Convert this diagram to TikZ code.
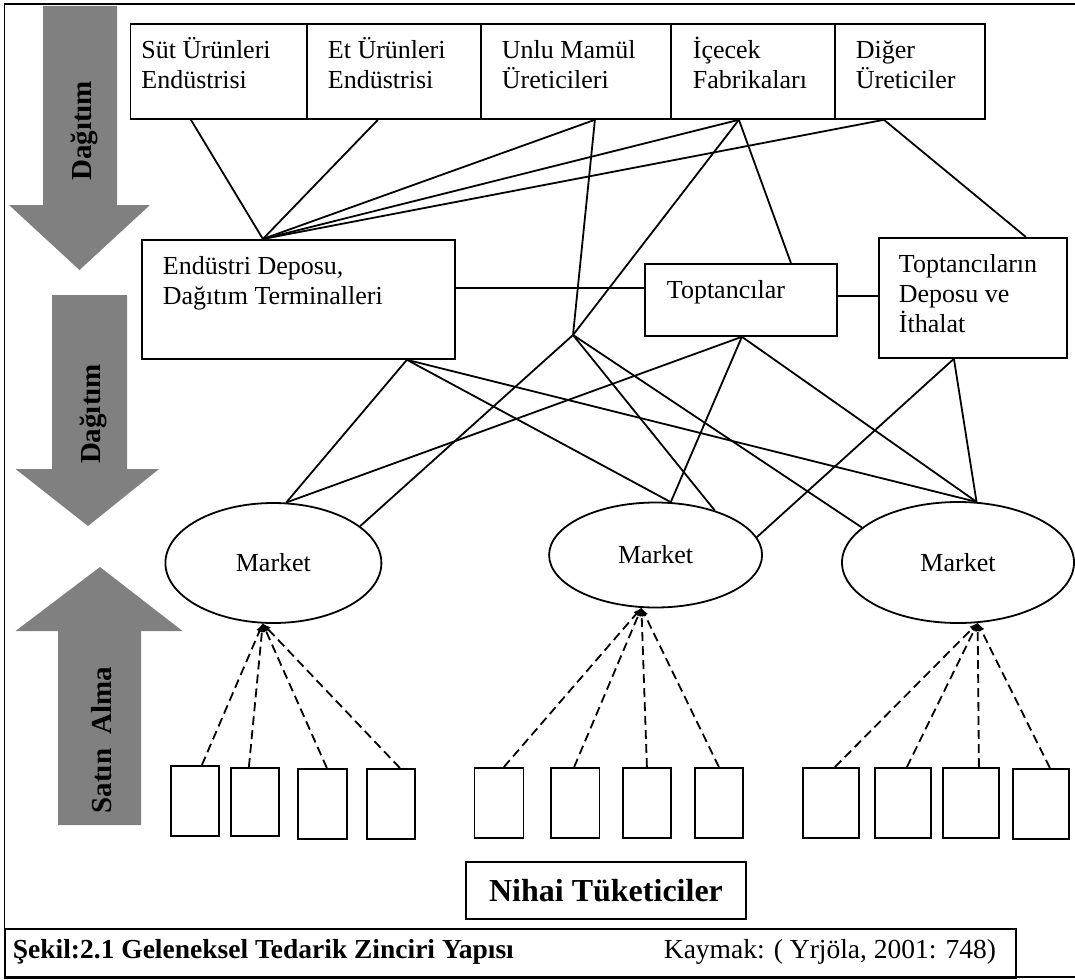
\documentclass[tikz,border=0pt]{standalone}
\usepackage{fontspec}
\setmainfont{Liberation Serif}
\usetikzlibrary{shapes.geometric}
\definecolor{arrowgray}{RGB}{128,128,128}
\newcommand{\boxstrut}{\rule{0pt}{25pt}}

\begin{document}
\begin{tikzpicture}[x=1pt,y=-1pt,line width=1.8pt,
        box/.style={draw,rectangle,inner sep=0pt,anchor=north west},
        txt/.style={anchor=north west,inner sep=0pt,align=left,font=\fontsize{26}{30}\selectfont},
        mkt/.style={draw,ellipse,inner sep=0pt,font=\fontsize{26}{30}\selectfont},
        buyline/.style={dash pattern=on 9pt off 5pt,-latex},
        side/.style={rotate=90,inner sep=0pt,font=\bfseries\fontsize{29}{34}\selectfont}]
        \useasboundingbox (0,0) rectangle (1075,979);
        \draw (1075,4) -- (4.5,4) -- (4.5,977) -- (1075,977);
        \fill[arrowgray] (43,6) -- (117,6) -- (117,205) -- (150,205) -- (79.5,270) -- (9,205) -- (43,205) -- cycle;
        \fill[arrowgray] (52,295) -- (127,295) -- (127,469) -- (159,469) -- (88,526) -- (15.5,469) -- (52,469) -- cycle;
        \fill[arrowgray] (58,825) -- (58,631) -- (15.5,631) -- (100,567) -- (182.5,631) -- (141,631) -- (141,825) -- cycle;
        \node[side] (dag1) at (84,131) {Dağıtım};
        \node[side] (dag2) at (93,414) {Dağıtım};
        \node[side] (alma) at (102,740) {Satın~~Alma};

        \node[box,minimum width=176.5,minimum height=95] (sut) at (129.5,23) {};
        \node[box,minimum width=174,minimum height=95] (et) at (306,23) {};
        \node[box,minimum width=190,minimum height=95] (unlu) at (480,23) {};
        \node[box,minimum width=164,minimum height=95] (icecek) at (670,23) {};
        \node[box,minimum width=150,minimum height=95] (diger) at (834,23) {};
        \node[txt] (sutT) at ([xshift=11pt,yshift=-10pt]sut.north west) {\boxstrut Süt Ürünleri\\Endüstrisi};
        \node[txt] (etT) at ([xshift=21pt,yshift=-10pt]et.north west) {\boxstrut Et Ürünleri\\Endüstrisi};
        \node[txt] (unluT) at ([xshift=21pt,yshift=-10pt]unlu.north west) {\boxstrut Unlu Mamül\\Üreticileri};
        \node[txt] (icecekT) at ([xshift=22pt,yshift=-10pt]icecek.north west) {\boxstrut İçecek\\Fabrikaları};
        \node[txt] (digerT) at ([xshift=21pt,yshift=-10pt]diger.north west) {\boxstrut Diğer\\Üreticiler};

        \node[box,minimum width=313,minimum height=119] (endu) at (141,239) {};
        \node[box,minimum width=192,minimum height=72] (topt) at (644,263) {};
        \node[box,minimum width=188,minimum height=120] (tdep) at (878,237) {};
        \node[txt] (enduT) at ([xshift=21pt,yshift=-10pt]endu.north west) {\boxstrut Endüstri Deposu,\\Dağıtım Terminalleri};
        \node[txt] (toptT) at ([xshift=22pt,yshift=-10pt]topt.north west) {\boxstrut Toptancılar};
        \node[txt] (tdepT) at ([xshift=20pt,yshift=-10pt]tdep.north west) {\boxstrut Toptancıların\\Deposu ve\\İthalat};
        \coordinate (hub) at (573,335);

        \node[mkt,minimum width=216,minimum height=120] (m1) at (273.4,563) {Market};
        \node[mkt,minimum width=213,minimum height=105] (m2) at (655.6,555) {Market};
        \node[mkt,minimum width=232,minimum height=121] (m3) at (958,562.5) {Market};

        \draw ([xshift=-27.75pt]sut.south) -- ([xshift=-35.5pt]endu.north);
        \draw ([xshift=-16pt]et.south) -- ([xshift=-35.5pt]endu.north);
        \draw ([xshift=19pt]unlu.south) -- ([xshift=-35.5pt]endu.north);
        \draw ([xshift=-14pt]icecek.south) -- ([xshift=-35.5pt]endu.north);
        \draw ([xshift=-26pt]diger.south) -- ([xshift=-35.5pt]endu.north);
        \draw ([xshift=19pt]unlu.south) -- (hub);
        \draw ([xshift=-14pt]icecek.south) -- (hub);
        \draw ([xshift=-14pt]icecek.south) -- ([xshift=50pt]topt.north);
        \draw ([xshift=-26pt]diger.south) -- ([xshift=53pt]tdep.north);
        \draw ([yshift=11.5pt]endu.east) -- ([yshift=12pt]topt.west);
        \draw ([yshift=4pt]topt.east) -- ([yshift=2pt]tdep.west);

        \draw ([xshift=108.5pt]endu.south) -- (m1.78);
        \draw ([xshift=108.5pt]endu.south) -- (m2.74);
        \draw ([xshift=108.5pt]endu.south) -- (m3.73);
        \draw ([xshift=1pt]topt.south) -- (m1.78);
        \draw ([xshift=1pt]topt.south) -- (m2.74);
        \draw ([xshift=1pt]topt.south) -- (m3.73);
        \draw (hub) -- (m1.23);
        \draw (hub) -- (m2.37);
        \draw (hub) -- (m3.160);
        \draw ([xshift=-19pt]tdep.south) -- (m2.10);
        \draw ([xshift=-19pt]tdep.south) -- (m3.73);

        \node[box,minimum width=48,minimum height=70] (c1) at (170,765) {};
        \node[box,minimum width=48,minimum height=68] (c2) at (230,767) {};
        \node[box,minimum width=49,minimum height=70] (c3) at (297,768) {};
        \node[box,minimum width=48,minimum height=70] (c4) at (366,768) {};
        \node[box,minimum width=49,minimum height=70] (c5) at (473.5,767) {};
        \node[box,minimum width=48.5,minimum height=70] (c6) at (550,767) {};
        \node[box,minimum width=48,minimum height=70] (c7) at (622,767) {};
        \node[box,minimum width=48,minimum height=70] (c8) at (694,767) {};
        \node[box,minimum width=56,minimum height=70] (c9) at (802,767) {};
        \node[box,minimum width=56,minimum height=70] (c10) at (874,767) {};
        \node[box,minimum width=56,minimum height=70] (c11) at (942,767) {};
        \node[box,minimum width=56,minimum height=70] (c12) at (1012,768) {};
        \draw[buyline] ([xshift=7pt]c1.north) -- (m1.260);
        \draw[buyline] ([xshift=-6pt]c2.north) -- (m1.260);
        \draw[buyline] ([xshift=4.5pt]c3.north) -- (m1.260);
        \draw[buyline] ([xshift=9pt]c4.north) -- (m1.260);
        \draw[buyline] ([xshift=5pt]c5.north) -- (m2.255);
        \draw[buyline] ([xshift=-1pt]c6.north) -- (m2.255);
        \draw[buyline] (c7.north) -- (m2.255);
        \draw[buyline] (c8.north) -- (m2.255);
        \draw[buyline] ([xshift=4pt]c9.north) -- (m3.288);
        \draw[buyline] ([xshift=4pt]c10.north) -- (m3.288);
        \draw[buyline] ([xshift=8pt]c11.north) -- (m3.288);
        \draw[buyline] ([xshift=9pt]c12.north) -- (m3.288);

        \node[box,anchor=center,minimum width=280,minimum height=57,font=\bfseries\fontsize{32}{38}\selectfont] (nihai) at (606,890.5) {Nihai Tüketiciler};
        \node[box,minimum width=1011,minimum height=49] (caption) at (4,928) {};
        \node[anchor=base west,inner sep=0pt,font=\bfseries\fontsize{27.5}{33}\selectfont] (sekil) at (12,958) {Şekil:2.1 Geleneksel Tedarik Zinciri Yapısı};
        \node[anchor=base west,inner sep=0pt,font=\fontsize{27.5}{33}\selectfont] (kaynak) at (663,958) {Kaymak: ( Yrjöla, 2001: 748)};
\end{tikzpicture}
\end{document}
